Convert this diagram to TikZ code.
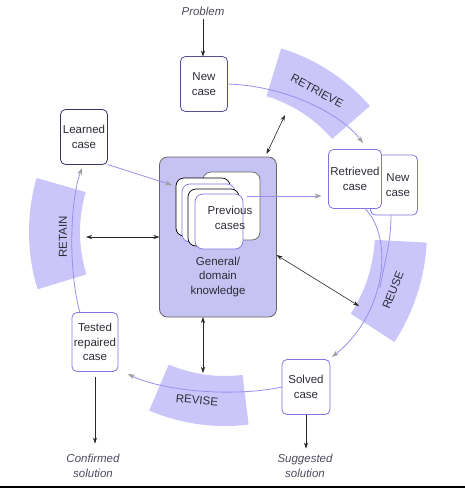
\documentclass[tikz,border=0pt]{standalone}
\usepackage{fontspec}
\setmainfont{Liberation Sans}
\usetikzlibrary{arrows.meta}
\definecolor{lav}{RGB}{202,198,250}
\definecolor{lavbox}{RGB}{198,194,242}
\definecolor{cycleline}{RGB}{150,144,235}
\definecolor{boxline}{RGB}{128,118,222}
\definecolor{txt}{RGB}{45,45,55}
\definecolor{notetxt}{RGB}{75,75,95}

\begin{document}
\begin{tikzpicture}[x=1pt,y=-1pt,inner sep=0pt,outer sep=0pt,
font=\fontsize{11.5}{14.5}\selectfont,
casebox/.style={draw=boxline,fill=white,rounded corners=5pt,line width=0.8pt,minimum width=47pt,minimum height=55pt,align=center,text=txt},
card/.style={fill=white,rounded corners=8pt,line width=0.7pt},
band/.style={fill=lav},
bandtext/.style={font=\fontsize{11.5}{14}\selectfont,text=txt},
cyc/.style={draw=cycleline,line width=0.8pt,-{Stealth[length=7pt,width=5pt,color=gray!75]}},
cycplain/.style={draw=cycleline,line width=0.8pt},
link/.style={draw=black!85,line width=0.6pt,-{Stealth[length=6pt,width=4pt]}},
linkboth/.style={draw=black!85,line width=0.6pt,{Stealth[length=6pt,width=4pt]}-{Stealth[length=6pt,width=4pt]}},
notelabel/.style={font=\fontsize{11.5}{14.5}\selectfont\itshape,text=notetxt,align=center}]

\useasboundingbox (0,0) rectangle (465,491);

% stage bands round the cycle
\coordinate (C) at (225,232);
\newcommand\stageband[4]{\fill[band] ([shift={(#1:#4)}]C) arc[start angle=#1,end angle=#2,radius=#4] -- ([shift={(#2:#3)}]C) arc[start angle=#2,end angle=#1,radius=#3] -- cycle;}
\stageband{-73}{-41}{142}{192}
\stageband{3}{33}{150}{202}
\stageband{83}{113}{144}{194}
\stageband{163}{196}{145}{196}

% knowledge box and case base
\draw (218,237) node[draw=black!60,fill=lavbox,rounded corners=8pt,line width=0.8pt,minimum width=117pt,minimum height=160pt] (gk) {};
\draw[card,draw=black!60] (203,172) rectangle (260,240);
\draw[card,draw=black] (176,178) rectangle (230,236);
\draw[card,draw=boxline] (182,184) rectangle (235,242);
\draw[card,draw=black] (188,189) rectangle (239,246);
\draw[card,draw=boxline] (195,194) rectangle (243,249);
\draw (230,218) node[align=center,text=txt] (prev) {Previous\\cases};
\draw (218,277) node[align=center,text=txt] (gktext) {General/\\domain\\knowledge};

% cases
\draw (204,84) node[casebox,draw=boxline!65!black] (newcase) {New\\case};
\draw (84,137) node[casebox,draw=boxline!45!black] (learned) {Learned\\case};
\draw (394,185) node[casebox,minimum height=60pt] (newcase2) {\hspace*{8pt}New\\\hspace*{8pt}case};
\draw (355,179) node[casebox,minimum width=53pt,minimum height=59pt] (retrieved) {Retrieved\\case};
\draw (306,387) node[casebox,minimum width=48pt] (solved) {Solved\\case};
\draw (95,342) node[casebox,minimum width=46pt,minimum height=59pt] (tested) {Tested\\repaired\\case};

% outside labels
\draw (203,11) node[notelabel] (problem) {Problem};
\draw (93,466) node[notelabel] (confirmed) {Confirmed\\solution};
\draw (305,466) node[notelabel] (suggested) {Suggested\\solution};

% stage names
\draw (317,91) node[bandtext,rotate=-28] (retrieve) {RETRIEVE};
\draw (393,290) node[bandtext,rotate=68] (reuse) {REUSE};
\draw (197,400) node[bandtext,rotate=-5] (revise) {REVISE};
\draw (63,237) node[bandtext,rotate=90] (retain) {RETAIN};

% free ends
\coordinate (rtop) at (363,143);
\coordinate (merge) at (380,288);
\coordinate (stip) at (332,357);
\coordinate (ttip) at (128,374);
\coordinate (ltip) at (82,168);
\coordinate (ctip) at (172,185);
\coordinate (prevout) at (247,196);
\coordinate (retrband) at (285,115);
\coordinate (retainband) at (86,237);
\coordinate (reuseband) at (359,306);
\coordinate (reviseband) at (203,373);

% the cycle
\draw[cyc] (newcase.east) .. controls +(62,2) and +(-20,-27) .. (rtop);
\draw[cyc] ([xshift=10pt]retrieved.south) .. controls +(30,31) and +(53,-42) .. (stip);
\draw[cycplain] ([xshift=-3pt]newcase2.south) .. controls +(0,30) and +(4,-25) .. (merge);
\draw[cyc] (solved.west) .. controls +(-52,11) and +(32,16) .. (ttip);
\draw[cyc] ([xshift=-15pt]tested.north) .. controls +(-12,-42) and +(-12,32) .. (ltip);
\draw[cyc] (learned.south east) -- (ctip);
\draw[cyc,shorten >=7pt] (prevout) -- (retrieved.west |- prevout);

% links to the knowledge box
\draw[linkboth] (retrband) -- ([shift={(-10pt,3pt)}]gk.north east);
\draw[linkboth] (retainband) -- (gk.west);
\draw[linkboth] ([yshift=-18pt]gk.east) -- (reuseband);
\draw[linkboth] ([xshift=-15pt]gk.south) -- (reviseband);

% in and out
\draw[link,shorten <=4pt] (problem) -- (problem |- newcase.north);
\draw[link,shorten <=5pt,shorten >=11pt] (tested.south) -- (tested.south |- confirmed.north);
\draw[link,shorten >=6pt] (solved.south) -- (solved.south |- suggested.north);

\draw[line width=2pt] (0,487) -- (465,487);
\end{tikzpicture}
\end{document}
